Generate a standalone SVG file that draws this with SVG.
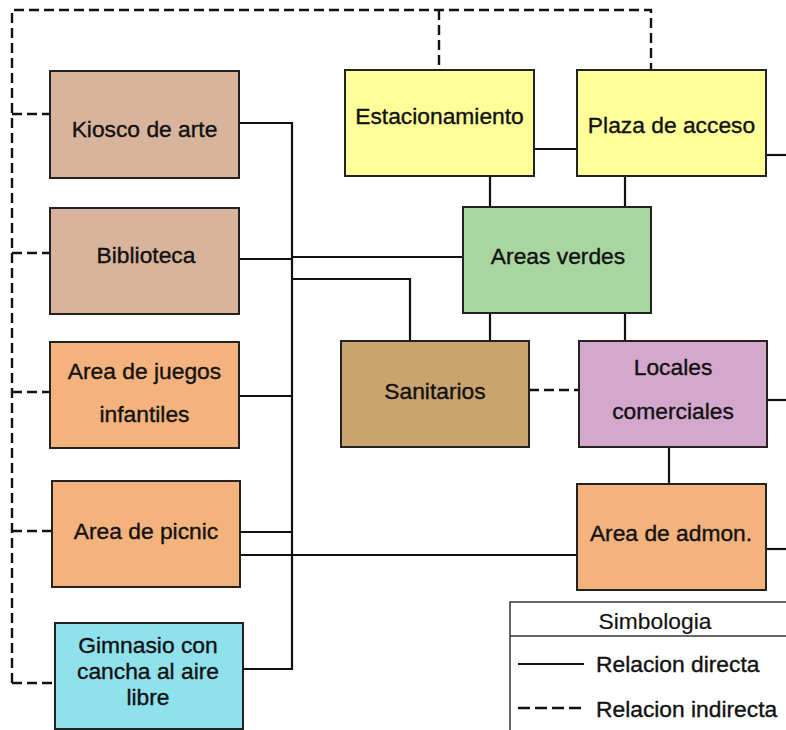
<svg xmlns="http://www.w3.org/2000/svg" width="786" height="730" viewBox="0 0 786 730">
<style>
.n{stroke:#222;stroke-width:2}
.t{font-family:"Liberation Sans",Arial,sans-serif;font-size:22.8px;fill:#111;stroke:#111;stroke-width:0.35;text-anchor:middle}
.s{fill:none;stroke:#111;stroke-width:2.2}
.d{fill:none;stroke:#111;stroke-width:2.4;stroke-dasharray:10,5}
</style>
<rect width="786" height="730" fill="#fff"/>
<g id="connectors">
<path class="d" d="M12,683 V10 H651 V70"/>
<path class="d" d="M439,10 V70"/>
<path class="d" d="M12,114 H50"/>
<path class="d" d="M12,253 H50"/>
<path class="d" d="M12,392 H50"/>
<path class="d" d="M12,531 H52"/>
<path class="d" d="M12,683 H55"/>
<path class="d" d="M529,390 H579"/>
<path class="s" d="M239,123 H292 V669 H243"/>
<path class="s" d="M239,259 H292"/>
<path class="s" d="M292,257 H463"/>
<path class="s" d="M292,279 H410 V341"/>
<path class="s" d="M239,396 H292"/>
<path class="s" d="M240,532 H292"/>
<path class="s" d="M240,555 H577"/>
<path class="s" d="M534,149 H577"/>
<path class="s" d="M766,155 H786"/>
<path class="s" d="M490,176 V207"/>
<path class="s" d="M625,176 V207"/>
<path class="s" d="M490,313 V341"/>
<path class="s" d="M625,313 V341"/>
<path class="s" d="M767,400 H786"/>
<path class="s" d="M669,447 V484"/>
<path class="s" d="M766,549 H786"/>
</g>
<g id="kiosco"><rect class="n" x="50" y="71" width="189" height="107" fill="#D8B49C"/><text class="t" x="144.5" y="137">Kiosco de arte</text></g>
<g id="biblioteca"><rect class="n" x="50" y="208" width="189" height="106" fill="#D8B49C"/><text class="t" x="146" y="263">Biblioteca</text></g>
<g id="juegos"><rect class="n" x="50" y="342" width="189" height="106" fill="#F4B27C"/><text class="t" x="144.5" y="379">Area de juegos</text><text class="t" x="144.5" y="422">infantiles</text></g>
<g id="picnic"><rect class="n" x="52" y="481" width="188" height="106" fill="#F4B27C"/><text class="t" x="146" y="539">Area de picnic</text></g>
<g id="gimnasio"><rect class="n" x="55" y="623" width="188" height="106" fill="#8FE1EC"/><text class="t" x="148" y="653">Gimnasio con</text><text class="t" x="148" y="679">cancha al aire</text><text class="t" x="148" y="705">libre</text></g>
<g id="estacionamiento"><rect class="n" x="345" y="70" width="189" height="106" fill="#FFFF99"/><text class="t" x="439.5" y="124">Estacionamiento</text></g>
<g id="plaza"><rect class="n" x="577" y="70" width="189" height="106" fill="#FFFF99"/><text class="t" x="671.5" y="133">Plaza de acceso</text></g>
<g id="areasverdes"><rect class="n" x="463" y="207" width="188" height="106" fill="#A8D5A0"/><text class="t" x="558" y="264">Areas verdes</text></g>
<g id="sanitarios"><rect class="n" x="341" y="341" width="188" height="106" fill="#C9A46F"/><text class="t" x="435" y="399">Sanitarios</text></g>
<g id="locales"><rect class="n" x="579" y="341" width="188" height="106" fill="#D4A7CC"/><text class="t" x="673" y="375">Locales</text><text class="t" x="673" y="419">comerciales</text></g>
<g id="admon"><rect class="n" x="577" y="484" width="189" height="106" fill="#F4B27C"/><text class="t" x="671" y="541">Area de admon.</text></g>
<g id="legend">
<rect x="510" y="602" width="290" height="140" fill="#fff" stroke="#333" stroke-width="1.5"/>
<line x1="510" y1="636" x2="786" y2="636" stroke="#333" stroke-width="1.5"/>
<text class="t" x="655" y="629" style="stroke-width:0.15">Simbologia</text>
<line class="s" x1="518" y1="664" x2="584" y2="664"/>
<text class="t" x="596" y="672" style="text-anchor:start">Relacion directa</text>
<line class="d" x1="518" y1="708" x2="583" y2="708" style="stroke-dasharray:12,5"/>
<text class="t" x="596" y="717" style="text-anchor:start">Relacion indirecta</text>
</g>
</svg>
